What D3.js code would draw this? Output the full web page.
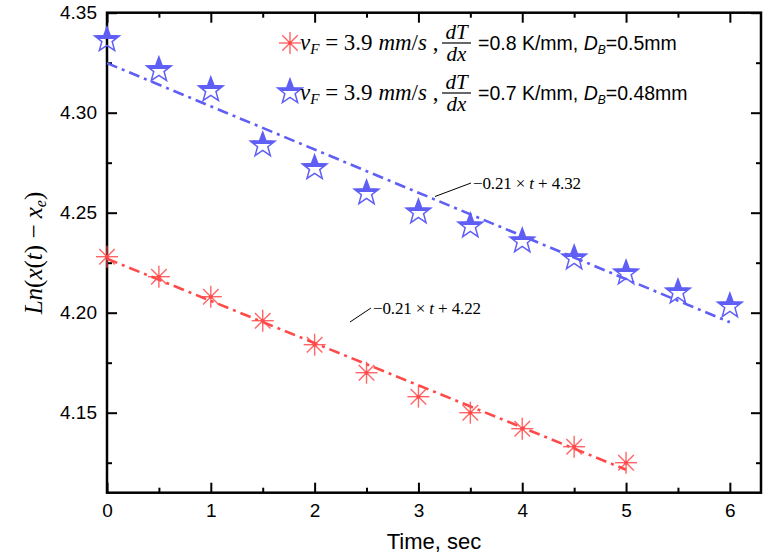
<!DOCTYPE html>
<html><head><meta charset="utf-8">
<script src="https://cdn.jsdelivr.net/npm/d3@7"></script>
<style>body{margin:0;background:#fff}</style>
</head><body>
<svg id="c" width="766" height="557"></svg>
<script>
const timesRed = [0,0.5,1,1.5,2,2.5,3,3.5,4,4.5,5];
const valuesRed = [4.228,4.218,4.208,4.196,4.184,4.170,4.158,4.150,4.142,4.133,4.125];
const timesBlue = [0,0.5,1,1.5,2,2.5,3,3.5,4,4.5,5,5.5,6];
const valuesBlue = [4.3364,4.3214,4.3114,4.2838,4.2724,4.2598,4.2503,4.2433,4.2358,4.2273,4.2198,4.2103,4.2033];
const fitRed = {a:4.227, b:-0.0211, t0:0, t1:5, label:"−0.21 × t + 4.22"};
const fitBlue = {a:4.3248, b:-0.0216, t0:0, t1:6, label:"−0.21 × t + 4.32"};
const xTicks = [0,1,2,3,4,5,6];
const xMinor = [0.5,1.5,2.5,3.5,4.5,5.5];
const yTicks = [4.15,4.20,4.25,4.30,4.35];
const yMinor = [4.125,4.175,4.225,4.275,4.325];

const RED = "#ff4a4a", BLUE = "#5f5ff5";
const L=107, R=761, T=12.7, B=492.7;
const svg = d3.select("#c");
const x = d3.scaleLinear().domain([0,6.3]).range([L,R]);
const y = d3.scaleLinear().domain([4.11,4.35]).range([B,T]);

const defs = svg.append("defs");
const g = defs.append("linearGradient").attr("id","half").attr("x1",0).attr("y1",0).attr("x2",0).attr("y2",1);
g.append("stop").attr("offset","0.52").attr("stop-color",BLUE);
g.append("stop").attr("offset","0.52").attr("stop-color","#fff").attr("stop-opacity",0);

const fmt = d3.format(".2f");
const TF = "Liberation Sans, Arial";
svg.append("g").attr("transform",`translate(0,${B})`).call(d3.axisBottom(x).tickValues(xTicks).tickSize(-10).tickPadding(11).tickFormat(d3.format("d")))
  .call(s=>{s.select(".domain").remove(); s.selectAll("text").attr("font-family",TF).attr("font-size",19).attr("fill","#000");});
svg.append("g").attr("transform",`translate(0,${B})`).call(d3.axisBottom(x).tickValues(xMinor).tickSize(-5).tickFormat(""))
  .call(s=>s.select(".domain").remove());
svg.append("g").attr("transform",`translate(0,${T})`).call(d3.axisTop(x).tickValues(xTicks).tickSize(-10).tickFormat(""))
  .call(s=>s.select(".domain").remove());
svg.append("g").attr("transform",`translate(0,${T})`).call(d3.axisTop(x).tickValues(xMinor).tickSize(-5).tickFormat(""))
  .call(s=>s.select(".domain").remove());
svg.append("g").attr("transform",`translate(${L},0)`).call(d3.axisLeft(y).tickValues(yTicks).tickSize(-10).tickPadding(10).tickFormat(fmt))
  .call(s=>{s.select(".domain").remove(); s.selectAll("text").attr("font-family",TF).attr("font-size",19).attr("fill","#000");});
svg.append("g").attr("transform",`translate(${L},0)`).call(d3.axisLeft(y).tickValues(yMinor).tickSize(-5).tickFormat(""))
  .call(s=>s.select(".domain").remove());
svg.append("g").attr("transform",`translate(${R},0)`).call(d3.axisRight(y).tickValues(yTicks).tickSize(-10).tickFormat(""))
  .call(s=>s.select(".domain").remove());
svg.append("g").attr("transform",`translate(${R},0)`).call(d3.axisRight(y).tickValues(yMinor).tickSize(-5).tickFormat(""))
  .call(s=>s.select(".domain").remove());
svg.selectAll(".tick line").attr("stroke","#000").attr("stroke-width",2);
svg.append("rect").attr("x",L).attr("y",T).attr("width",R-L).attr("height",B-T)
  .attr("fill","none").attr("stroke","#000").attr("stroke-width",2.5);

function fitLine(f,color){
  svg.append("line").attr("x1",x(f.t0)).attr("y1",y(f.a+f.b*f.t0)).attr("x2",x(f.t1)).attr("y2",y(f.a+f.b*f.t1))
    .attr("stroke",color).attr("stroke-width",2.6).attr("stroke-dasharray","11,5,3,5");
}
fitLine(fitRed,RED);
fitLine(fitBlue,BLUE);

function starPath(R0,r0){
  const pts=[];
  for(let i=0;i<10;i++){const a=-Math.PI/2+i*Math.PI/5; const rr=i%2?r0:R0; pts.push([rr*Math.cos(a),rr*Math.sin(a)]);}
  return "M"+pts.map(p=>p.join(",")).join("L")+"Z";
}
const sp = starPath(13,5.4);
function drawStar(cx,cy){
  svg.append("path").attr("d",sp).attr("transform",`translate(${cx},${cy})`)
    .attr("fill","url(#half)").attr("stroke",BLUE).attr("stroke-width",1.5).attr("stroke-linejoin","miter");
}
function drawAst(cx,cy){
  const gg=svg.append("g").attr("transform",`translate(${cx},${cy})`);
  for(let i=0;i<4;i++){
    const a=i*Math.PI/4, r=11;
    gg.append("line").attr("x1",-r*Math.cos(a)).attr("y1",-r*Math.sin(a)).attr("x2",r*Math.cos(a)).attr("y2",r*Math.sin(a))
      .attr("stroke",RED).attr("stroke-width",1.4).attr("stroke-opacity",0.85);
  }
  gg.append("circle").attr("r",2).attr("fill",RED);
}
timesBlue.forEach((t,i)=>drawStar(x(t),y(valuesBlue[i])));
timesRed.forEach((t,i)=>drawAst(x(t),y(valuesRed[i])));

function annot(x1,y1,x2,y2,tx,ty,label){
  svg.append("line").attr("x1",x1).attr("y1",y1).attr("x2",x2).attr("y2",y2).attr("stroke","#000").attr("stroke-width",1);
  const s=svg.append("text").attr("x",tx).attr("y",ty).attr("font-family","Liberation Serif, serif").attr("font-size",17)
    .attr("fill","#000").attr("textLength",108).attr("lengthAdjust","spacing");
  const parts=label.split("t");
  s.append("tspan").text(parts[0]); s.append("tspan").attr("font-style","italic").text("t"); s.append("tspan").text(parts[1]);
}
annot(435,196.5,471,183,473,189,fitBlue.label);
annot(350,322,371,308,373,314,fitRed.label);

function legendRow(cy,grad,dB){
  const sx=300;
  const t=svg.append("text").attr("x",sx).attr("y",cy+7).attr("font-family","Liberation Serif, serif").attr("font-size",23).attr("fill","#000");
  t.append("tspan").attr("font-style","italic").text("v");
  t.append("tspan").attr("font-style","italic").attr("font-size",15).attr("dy",4).text("F");
  t.append("tspan").attr("dy",-4).text(" = 3.9 ");
  t.append("tspan").attr("font-style","italic").text("mm");
  t.append("tspan").text("/");
  t.append("tspan").attr("font-style","italic").text("s");
  t.append("tspan").text(" ,");
  const fx=442, fw=29;
  svg.append("text").attr("x",fx+fw/2).attr("y",cy-4).attr("text-anchor","middle").attr("font-family","Liberation Serif, serif")
    .attr("font-style","italic").attr("font-size",21).text("dT");
  svg.append("line").attr("x1",fx).attr("x2",fx+fw).attr("y1",cy).attr("y2",cy).attr("stroke","#000").attr("stroke-width",1.2);
  svg.append("text").attr("x",fx+fw/2).attr("y",cy+18).attr("text-anchor","middle").attr("font-family","Liberation Serif, serif")
    .attr("font-style","italic").attr("font-size",21).text("dx");
  const t2=svg.append("text").attr("x",478).attr("y",cy+7).attr("font-family",TF).attr("font-size",19.5).attr("fill","#000");
  t2.append("tspan").text(grad+" K/mm, ");
  t2.append("tspan").attr("font-style","italic").text("D");
  t2.append("tspan").attr("font-style","italic").attr("font-size",12).attr("dy",4).text("B");
  t2.append("tspan").attr("dy",-4).text("="+dB);
}
drawAst(290,43);
legendRow(43,"=0.8","0.5mm");
drawStar(290,92);
legendRow(93,"=0.7","0.48mm");

svg.append("text").attr("x",434).attr("y",549).attr("text-anchor","middle").attr("font-family",TF)
  .attr("font-size",22).text("Time, sec");
const yt=svg.append("text").attr("transform","translate(42,253) rotate(-90)").attr("text-anchor","middle")
  .attr("font-family","Liberation Serif, serif").attr("font-size",25);
yt.append("tspan").attr("font-style","italic").text("Ln");
yt.append("tspan").text("(");
yt.append("tspan").attr("font-style","italic").text("x");
yt.append("tspan").text("(");
yt.append("tspan").attr("font-style","italic").text("t");
yt.append("tspan").text(") − ");
yt.append("tspan").attr("font-style","italic").text("x");
yt.append("tspan").attr("font-style","italic").attr("font-size",16).attr("dy",4).text("e");
yt.append("tspan").attr("dy",-4).text(")");
</script>
</body></html>
